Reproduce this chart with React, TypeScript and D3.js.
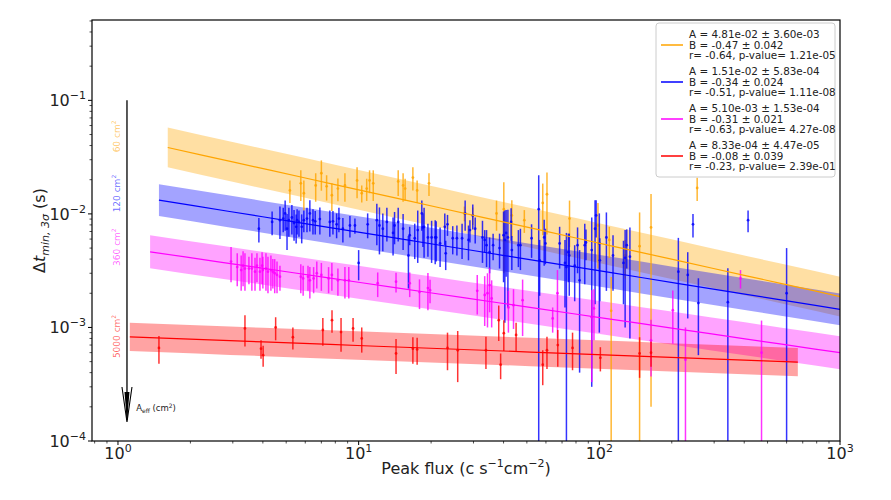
import React from 'react';
import * as d3 from 'd3';

// ---------- data ----------
const seriesColors = ['#FFA500', '#0000FF', '#FF00FF', '#FF0000'];
const fitA = [4.81e-2, 1.51e-2, 5.10e-3, 8.33e-4];
const fitB = [-0.47, -0.34, -0.31, -0.08];
const bandDex = [0.175, 0.14, 0.145, 0.125];
const fitXStart = [1.61, 1.48, 1.36, 1.12];
const fitXEnd = [1100, 1100, 1100, 668];
const areaLabels = ['60', '120', '360', '5000'];

const legendLines: string[][] = [
  ['A = 4.81e-02 ± 3.60e-03', 'B = -0.47 ± 0.042', 'r= -0.64, p-value= 1.21e-05'],
  ['A = 1.51e-02 ± 5.83e-04', 'B = -0.34 ± 0.024', 'r= -0.51, p-value= 1.11e-08'],
  ['A = 5.10e-03 ± 1.53e-04', 'B = -0.31 ± 0.021', 'r= -0.63, p-value= 4.27e-08'],
  ['A = 8.33e-04 ± 4.47e-05', 'B = -0.08 ± 0.039', 'r= -0.23, p-value= 2.39e-01'],
];

const xTicks = [1, 10, 100, 1000];
const xTickExp = ['0', '1', '2', '3'];
const yTicks = [1e-4, 1e-3, 1e-2, 1e-1];
const yTickExp = ['−4', '−3', '−2', '−1'];

// [peak flux, dt, error]
const orangePts: [number, number, number][] = [
  [5.18, 0.0161, 0.0036], [5.75, 0.0186, 0.0056], [5.92, 0.0152, 0.0045], [6.63, 0.0178, 0.005],
  [7.0, 0.0228, 0.0068], [7.36, 0.0175, 0.0044], [7.74, 0.0146, 0.004], [8.2, 0.0167, 0.0038],
  [8.77, 0.0178, 0.005], [9.85, 0.0197, 0.006], [10.3, 0.0152, 0.0026], [10.8, 0.0167, 0.0037],
  [11.1, 0.0197, 0.0045], [11.5, 0.0186, 0.0056], [14.6, 0.0193, 0.0049], [15.3, 0.0178, 0.005],
  [15.6, 0.0167, 0.0037], [16.8, 0.0209, 0.0048], [17.5, 0.0161, 0.0036], [19.6, 0.0186, 0.0042],
  [27.5, 0.0101, 0.0015], [29.8, 0.0097, 0.0017], [37.4, 0.0101, 0.003], [40.1, 0.011, 0.008],
  [43.3, 0.0097, 0.0035], [48.8, 0.0088, 0.002], [58.2, 0.0125, 0.006], [60.6, 0.0149, 0.0083],
  [75.2, 0.0091, 0.004], [98.7, 0.0079, 0.0046], [110, 0.0059, 0.0018], [112, 0.0014, 0.00138],
  [128, 0.0043, 0.0016], [147, 0.0052, 0.0051], [164, 0.0076, 0.0074], [255, 0.0169, 0.0039],
];

const bluePts: [number, number, number][] = [
  [3.85, 0.0074, 0.0018], [4.37, 0.0085, 0.002], [4.71, 0.0088, 0.0028], [4.86, 0.0091, 0.0022],
  [4.95, 0.0101, 0.003], [5.04, 0.0074, 0.0026], [5.13, 0.0088, 0.0025], [5.28, 0.0093, 0.0027],
  [5.39, 0.0083, 0.0025], [5.5, 0.0077, 0.0022], [5.55, 0.0088, 0.0022], [5.65, 0.0085, 0.0022],
  [5.8, 0.0077, 0.0022], [5.92, 0.0088, 0.0019], [6.1, 0.0091, 0.0022], [6.27, 0.0101, 0.0031],
  [6.46, 0.0088, 0.0022], [6.6, 0.0086, 0.002], [6.9, 0.009, 0.0024], [7.59, 0.0085, 0.0022],
  [7.82, 0.0086, 0.002], [8.1, 0.0081, 0.002], [8.28, 0.0091, 0.0022], [8.6, 0.0074, 0.0018],
  [9.2, 0.0079, 0.0017], [9.65, 0.0079, 0.0012], [10.0, 0.0037, 0.0011], [10.9, 0.0081, 0.002],
  [11.9, 0.0088, 0.0035], [12.2, 0.0079, 0.0035], [12.6, 0.0074, 0.0027], [13.1, 0.0085, 0.0028],
  [13.9, 0.0068, 0.0025], [14.1, 0.0079, 0.0025], [14.6, 0.0085, 0.0028], [15.3, 0.0074, 0.0026],
  [16.1, 0.0043, 0.0021], [16.3, 0.0065, 0.0012], [17.1, 0.0061, 0.0021], [17.6, 0.0072, 0.0035],
  [18.3, 0.0101, 0.003], [18.5, 0.0076, 0.0025], [18.7, 0.0077, 0.0036], [19.4, 0.0062, 0.002],
  [20.1, 0.0062, 0.0025], [20.8, 0.0062, 0.0026], [21.0, 0.0062, 0.0024], [21.8, 0.0055, 0.0021],
  [22.8, 0.0077, 0.0024], [23.0, 0.0045, 0.0013], [23.4, 0.0081, 0.0017], [24.6, 0.0061, 0.0017],
  [25.6, 0.0061, 0.0018], [26.9, 0.0061, 0.0021], [27.7, 0.0101, 0.003], [28.6, 0.0059, 0.002],
  [29.0, 0.0072, 0.0016], [29.8, 0.0097, 0.0024], [30.5, 0.0074, 0.0019], [32.7, 0.0062, 0.0025],
  [33.4, 0.0059, 0.0013], [34.0, 0.0053, 0.0019], [35.0, 0.0046, 0.0016], [36.2, 0.0053, 0.0014],
  [38.5, 0.005, 0.0017], [40.0, 0.0065, 0.004], [40.5, 0.0059, 0.0048], [41.0, 0.0068, 0.004],
  [41.7, 0.0062, 0.0047], [43.0, 0.0085, 0.0027], [43.3, 0.0048, 0.0016], [46.1, 0.0053, 0.0019],
  [47.0, 0.0053, 0.0021], [52.3, 0.0061, 0.002], [56.0, 0.011, 0.0109], [56.5, 0.0039, 0.002],
  [59.0, 0.0062, 0.0027], [59.7, 0.0055, 0.0019], [68.4, 0.0055, 0.0022], [72.0, 0.0037, 0.0022],
  [73.0, 0.0034, 0.0034], [74.4, 0.0046, 0.0021], [75.0, 0.0043, 0.0024], [79.0, 0.0035, 0.0018],
  [81.2, 0.0053, 0.0023], [82.8, 0.0026, 0.0022], [87.0, 0.0053, 0.0029], [88.0, 0.0056, 0.0017],
  [93.0, 0.0048, 0.0045], [96.0, 0.0074, 0.0058], [97.0, 0.0097, 0.0035], [100, 0.0055, 0.0046],
  [100.5, 0.0039, 0.0022], [107, 0.0062, 0.0041], [114, 0.0043, 0.0022], [126, 0.0037, 0.0021],
  [128, 0.0041, 0.0031], [130, 0.0053, 0.002], [134, 0.0042, 0.0034], [213, 0.0031, 0.00305],
  [233, 0.0029, 0.0017], [245, 0.0081, 0.0019], [258, 0.00164, 0.00107], [342, 0.00167, 0.00165],
  [415, 0.0088, 0.0019], [600, 0.002, 0.003],
];

const magentaPts: [number, number, number][] = [
  [2.95, 0.0038, 0.0013], [3.13, 0.0034, 0.0011], [3.25, 0.0032, 0.0011], [3.31, 0.0035, 0.0012],
  [3.37, 0.0033, 0.0012], [3.5, 0.0033, 0.0009], [3.6, 0.0033, 0.0012], [3.71, 0.0031, 0.001],
  [3.78, 0.0035, 0.001], [3.89, 0.0031, 0.001], [3.97, 0.0035, 0.0011], [4.0, 0.0032, 0.001],
  [4.12, 0.0033, 0.0012], [4.2, 0.0031, 0.0011], [4.32, 0.0032, 0.0011], [4.4, 0.0031, 0.0009],
  [4.48, 0.003, 0.001], [4.58, 0.0029, 0.0009], [4.71, 0.0028, 0.0007], [5.75, 0.0028, 0.0008],
  [5.88, 0.0027, 0.0008], [6.16, 0.0028, 0.0007], [6.27, 0.0026, 0.0008], [6.5, 0.0027, 0.0007],
  [6.7, 0.003, 0.0008], [7.0, 0.0029, 0.0008], [7.5, 0.0027, 0.0007], [7.74, 0.0029, 0.0008],
  [8.2, 0.0026, 0.0007], [8.77, 0.0026, 0.0008], [9.1, 0.0026, 0.0008], [12.0, 0.00245, 0.0006],
  [14.3, 0.00253, 0.0005], [16.3, 0.00245, 0.0006], [17.9, 0.00205, 0.0006], [19.4, 0.00222, 0.0008],
  [19.8, 0.00213, 0.0005], [31.1, 0.0021, 0.0008], [33.4, 0.00193, 0.0009], [34.3, 0.002, 0.001],
  [35.0, 0.00236, 0.001], [35.7, 0.0018, 0.0008], [41.9, 0.0015, 0.0006], [44.0, 0.00157, 0.0006],
  [48.0, 0.00174, 0.0009], [64.0, 0.0012, 0.0003], [67.0, 0.002, 0.0012], [93.0, 0.00123, 0.0009],
  [95.0, 0.00147, 0.0007], [164, 0.00077, 0.0004], [202, 0.00142, 0.0007], [228, 0.00052, 0.00048],
  [386, 0.0027, 0.0005], [472, 0.0006, 0.00055],
];

const redPts: [number, number, number][] = [
  [1.48, 0.00066, 0.00018], [3.37, 0.00098, 0.0003], [3.93, 0.00065, 0.00012], [4.01, 0.00057, 0.00012],
  [4.52, 0.001, 0.00023], [5.33, 0.00082, 0.00018], [7.1, 0.00095, 0.00026], [7.75, 0.00116, 0.00026],
  [8.45, 0.00091, 0.0003], [9.48, 0.00098, 0.00023], [10.3, 0.0008, 0.0002], [14.3, 0.00059, 0.0002],
  [16.8, 0.00065, 0.00017], [17.5, 0.00064, 0.00017], [23.4, 0.00066, 0.00024], [25.8, 0.00063, 0.0003],
  [33.8, 0.00063, 0.0002], [38.2, 0.00116, 0.0004], [38.9, 0.00047, 0.00012], [40.1, 0.00089, 0.00027],
  [45.1, 0.00086, 0.00024], [58.2, 0.00047, 0.00016], [60.6, 0.00063, 0.0002], [67.2, 0.0007, 0.00025],
  [77.4, 0.00066, 0.00024], [101, 0.00054, 0.00013], [147, 0.00059, 0.00023], [164, 0.0006, 0.00015],
];

const seriesPts = [orangePts, bluePts, magentaPts, redPts];

// annotation positions (data units)
const arrowX = 1.09;
const arrowYTop = 0.1;
const arrowYBottom = 1.47e-4;
const areaLabelX = 0.99;
const aeffLabelPos: [number, number] = [1.19, 1.95e-4];

// ---------- layout ----------
const W = 891;
const H = 500;
const L = 92, R = 840, T = 20, B = 441;
const FONT = 'DejaVu Sans, sans-serif';

export default function App() {
  const x = d3.scaleLog().domain([0.78, 1000]).range([L, R]);
  const y = d3.scaleLog().domain([1e-4, 0.51]).range([B, T]);

  const xMinor: number[] = [];
  for (let d = -1; d <= 2; d++) for (let m = 2; m <= 9; m++) {
    const v = m * Math.pow(10, d);
    if (v >= 0.78 && v <= 1000) xMinor.push(v);
  }
  const yMinor: number[] = [];
  for (let d = -4; d <= -1; d++) for (let m = 2; m <= 9; m++) {
    const v = m * Math.pow(10, d);
    if (v >= 1e-4 && v <= 0.51) yMinor.push(v);
  }

  const fit = (i: number, v: number) => fitA[i] * Math.pow(v, fitB[i]);

  const bands = seriesColors.map((c, i) => {
    const s = fitXStart[i], e = fitXEnd[i];
    const xs = d3.range(0, 21).map(k => s * Math.pow(e / s, k / 20));
    const f = Math.pow(10, bandDex[i]);
    const area = d3.area<number>()
      .x(v => x(v))
      .y0(v => y(fit(i, v) / f))
      .y1(v => y(fit(i, v) * f));
    const line = d3.line<number>().x(v => x(v)).y(v => y(fit(i, v)));
    return { area: area(xs) || '', line: line(xs) || '', color: c };
  });

  const yClamp = (v: number) => (v <= 0 ? B + 20 : Math.min(y(v), B + 20));

  const legX = 656, legY = 23, legW = 179, legH = 154;
  const ax = x(arrowX);
  const ab = y(arrowYBottom);

  return (
    <svg width={W} height={H} style={{ position: 'absolute', left: 0, top: 0, background: '#fff' }} fontFamily={FONT}>
      <defs>
        <clipPath id="plotClip">
          <rect x={L} y={T} width={R - L} height={B - T} />
        </clipPath>
      </defs>
      <rect x={0} y={0} width={W} height={H} fill="#fff" />

      <g clipPath="url(#plotClip)">
        {bands.map((b, i) => (
          <path key={'band' + i} d={b.area} fill={b.color} fillOpacity={0.36} stroke="none" />
        ))}
        {seriesPts.map((pts, i) => (
          <g key={'s' + i} stroke={seriesColors[i]} fill={seriesColors[i]} strokeOpacity={0.8} fillOpacity={0.8}>
            {pts.map((p, k) => (
              <g key={k}>
                <line x1={x(p[0])} x2={x(p[0])} y1={y(p[1] + p[2])} y2={yClamp(p[1] - p[2])} strokeWidth={1.5} />
                <circle cx={x(p[0])} cy={y(p[1])} r={1.4} stroke="none" />
              </g>
            ))}
          </g>
        ))}
        {bands.map((b, i) => (
          <path key={'line' + i} d={b.line} fill="none" stroke={b.color} strokeWidth={1.2} />
        ))}
      </g>

      {/* arrow annotation */}
      <line x1={ax} x2={ax} y1={y(arrowYTop)} y2={ab - 2} stroke="#000" strokeWidth={1.3} />
      <path d={`M${ax - 5},${ab - 35} L${ax},${ab} L${ax + 5},${ab - 35}`} fill="none" stroke="#000" strokeWidth={1.1} />
      <path d={`M${ax - 2.5},${ab - 30} L${ax},${ab} L${ax + 2.5},${ab - 30} Z`} fill="#000" />
      <text x={x(aeffLabelPos[0])} y={y(aeffLabelPos[1]) + 3} fontSize={8.5} fill="#222">
        A<tspan fontSize={6} dy={2}>eff</tspan><tspan dy={-2}>{'\u00A0(cm'}</tspan><tspan fontSize={6} dy={-3}>2</tspan><tspan dy={3}>)</tspan>
      </text>
      {areaLabels.map((lab, i) => (
        <text key={'al' + i}
          transform={`translate(${x(areaLabelX) + 3},${y(fitA[i])}) rotate(-90)`}
          textAnchor="middle" fontSize={9} fill={seriesColors[i]} fillOpacity={0.6}>
          {lab + '\u00A0cm'}<tspan fontSize={6} dy={-4}>2</tspan>
        </text>
      ))}

      {/* spines */}
      <rect x={L} y={T} width={R - L} height={B - T} fill="none" stroke="#000" strokeWidth={1.2} />

      {/* x ticks */}
      {xMinor.map((v, k) => (
        <line key={'xm' + k} x1={x(v)} x2={x(v)} y1={B} y2={B + 2.5} stroke="#000" strokeWidth={0.7} />
      ))}
      {xTicks.map((v, k) => (
        <g key={'xt' + k}>
          <line x1={x(v)} x2={x(v)} y1={B} y2={B + 4} stroke="#000" strokeWidth={1} />
          <text x={x(v)} y={B + 18} textAnchor="middle" fontSize={16} fill="#222">
            10<tspan fontSize={11} dy={-7}>{xTickExp[k]}</tspan>
          </text>
        </g>
      ))}
      {/* y ticks */}
      {yMinor.map((v, k) => (
        <line key={'ym' + k} x1={L - 2.5} x2={L} y1={y(v)} y2={y(v)} stroke="#000" strokeWidth={0.7} />
      ))}
      {yTicks.map((v, k) => (
        <g key={'yt' + k}>
          <line x1={L - 4} x2={L} y1={y(v)} y2={y(v)} stroke="#000" strokeWidth={1} />
          <text x={L - 6} y={y(v) + 6} textAnchor="end" fontSize={16} fill="#222">
            10<tspan fontSize={11} dy={-7}>{yTickExp[k]}</tspan>
          </text>
        </g>
      ))}

      {/* axis labels */}
      <text x={(L + R) / 2} y={B + 33} textAnchor="middle" fontSize={16} fill="#222">
        Peak flux (c s<tspan fontSize={11} dy={-7}>−1</tspan><tspan dy={7}>cm</tspan><tspan fontSize={11} dy={-7}>−2</tspan><tspan dy={7}>)</tspan>
      </text>
      <text transform={`translate(45,${(T + B) / 2}) rotate(-90)`} textAnchor="middle" fontSize={16} fill="#222">
        Δ<tspan fontStyle="italic">t</tspan><tspan fontSize={11} dy={4} fontStyle="italic">{'min,\u00A03σ'}</tspan><tspan dy={-4} dx={5}>(s)</tspan>
      </text>

      {/* legend */}
      <rect x={legX} y={legY} width={legW} height={legH} rx={3} fill="#fff" fillOpacity={0.8} stroke="#ccc" strokeWidth={1} />
      {legendLines.map((lines, i) => {
        const cy = legY + 22 + i * 37;
        return (
          <g key={'lg' + i}>
            <line x1={legX + 5} x2={legX + 27} y1={cy} y2={cy} stroke={seriesColors[i]} strokeWidth={1.5} />
            {lines.map((t, j) => (
              <text key={j} x={legX + 33} y={cy + (j - 1) * 10.6 + 3.8} fontSize={10.4} fill="#222">{t}</text>
            ))}
          </g>
        );
      })}
    </svg>
  );
}
